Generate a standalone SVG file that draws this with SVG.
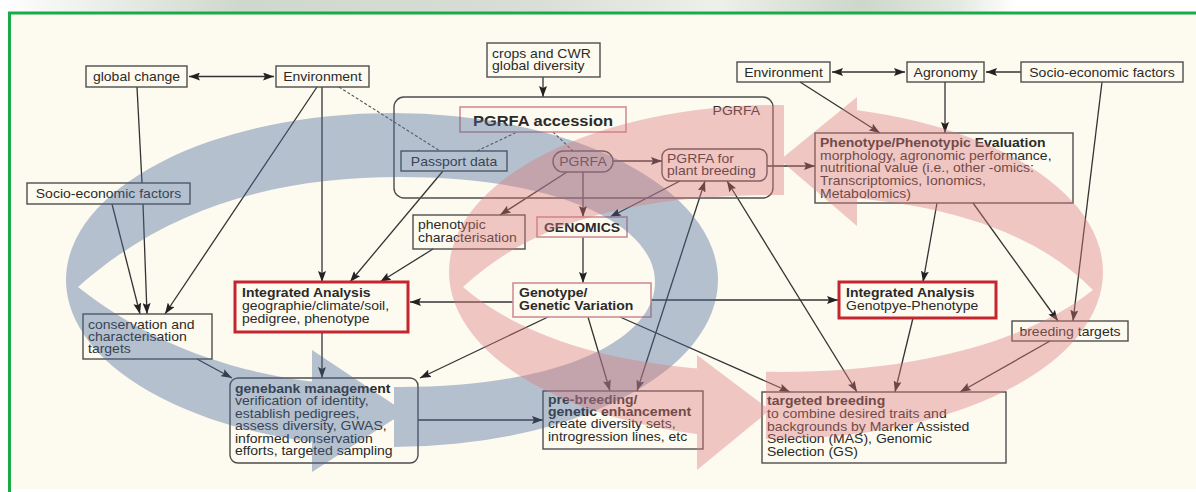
<svg xmlns="http://www.w3.org/2000/svg" width="1196" height="492" viewBox="0 0 1196 492">
<style>
.t{font-family:"Liberation Sans",Arial,Helvetica,sans-serif;font-size:12.5px;fill:#2a2a2a}
.b{font-weight:bold}
.big{font-size:14.7px}
.box{fill:none;stroke:#4d4d4d;stroke-width:1.4}
.red{fill:none;stroke:#c3262e;stroke-width:3}
.pink{fill:none;stroke:#cf8f98;stroke-width:1.6}
.ln{stroke:#333;stroke-width:1.3;fill:none}
.a{marker-end:url(#ah)}
.d{marker-start:url(#ah);marker-end:url(#ah)}
.dash{stroke:#555;stroke-width:1.1;stroke-dasharray:3 2;fill:none}
</style>
<defs>
<marker id="ah" viewBox="0 0 11 8" refX="11" refY="4" markerWidth="11" markerHeight="8" markerUnits="userSpaceOnUse" orient="auto-start-reverse"><path d="M0,0 L11,4 L0,8 L2,4 Z" fill="#222"/></marker>
<linearGradient id="strip" x1="0" y1="0" x2="1" y2="0">
<stop offset="0" stop-color="#ffffff"/>
<stop offset="0.2" stop-color="#cfd8cc"/>
<stop offset="0.45" stop-color="#d9ded6"/>
<stop offset="0.6" stop-color="#eef0ea"/>
<stop offset="0.72" stop-color="#cdd7ca"/>
<stop offset="0.8" stop-color="#e3e9e0"/>
<stop offset="0.85" stop-color="#ffffff"/>
<stop offset="1" stop-color="#ffffff"/>
</linearGradient>
<clipPath id="clipB"><path clip-rule="evenodd" d="M0,0H1196V492H0Z M312,300H394V492H312Z"/></clipPath>
<clipPath id="clipR"><path clip-rule="evenodd" d="M0,0H1196V492H0Z M697,300H766V492H697Z M784,0H857V250H784Z"/></clipPath>
</defs>

<g id="background">
<rect x="0" y="0" width="1196" height="492" fill="#ffffff"/>
<rect x="0" y="0" width="1196" height="12" fill="url(#strip)"/>
<rect x="10" y="13" width="1186" height="476" fill="#fdfaf0"/>
<line x1="8" y1="13" x2="1196" y2="13" stroke="#1aab48" stroke-width="3"/>
<line x1="9.5" y1="12" x2="9.5" y2="492" stroke="#1aab48" stroke-width="3"/>
</g>

<g id="connectors">
<line class="ln d" x1="189" y1="76.5" x2="274" y2="76.5"/>
<line class="ln d" x1="832" y1="72" x2="905" y2="72"/>
<line class="ln a" x1="1021" y1="72" x2="986" y2="72"/>
<line class="ln a" x1="800" y1="82" x2="880" y2="133"/>
<line class="ln a" x1="945" y1="82" x2="945" y2="133"/>
<line class="ln a" x1="1102" y1="82" x2="1073" y2="321"/>
<line class="ln a" x1="543" y1="77" x2="543" y2="97"/>
<line class="ln a" x1="613" y1="161" x2="662" y2="161"/>
<line class="ln a" x1="767" y1="166" x2="815" y2="166"/>
<line class="ln a" x1="583" y1="172" x2="583" y2="217"/>
<line class="ln a" x1="567" y1="172" x2="500" y2="215"/>
<line class="ln a" x1="680" y1="181" x2="610" y2="217"/>
<line class="ln a" x1="583" y1="237" x2="583" y2="283"/>
<line class="ln a" x1="513" y1="302" x2="410" y2="302"/>
<line class="ln a" x1="651" y1="300" x2="838" y2="300"/>
<line class="ln a" x1="548" y1="317" x2="420" y2="378"/>
<line class="ln a" x1="588" y1="317" x2="610" y2="391"/>
<line class="ln a" x1="620" y1="317" x2="790" y2="392"/>
<line class="ln d" x1="637" y1="391" x2="705" y2="181"/>
<line class="ln d" x1="727" y1="181" x2="857" y2="392"/>
<line class="ln a" x1="937" y1="203" x2="923" y2="282"/>
<line class="ln a" x1="973" y1="203" x2="1058" y2="321"/>
<line class="ln a" x1="913" y1="318" x2="895" y2="392"/>
<line class="ln a" x1="1050" y1="341" x2="960" y2="392"/>
<line class="ln a" x1="418" y1="420" x2="543" y2="420"/>
<line class="ln a" x1="322" y1="332" x2="322" y2="378"/>
<line class="ln a" x1="197" y1="359" x2="232" y2="378"/>
<line class="ln a" x1="112" y1="204" x2="140" y2="314"/>
<line class="ln" x1="137" y1="87" x2="142" y2="183"/>
<line class="ln a" x1="143" y1="204" x2="147" y2="314"/>
<line class="ln a" x1="317" y1="87" x2="165" y2="314"/>
<line class="ln a" x1="322" y1="87" x2="322" y2="282"/>
<line class="ln a" x1="443" y1="171" x2="350" y2="282"/>
<line class="ln a" x1="433" y1="249" x2="380" y2="282"/>
<line class="dash" x1="339" y1="87" x2="440" y2="151"/>
<line class="dash" x1="477" y1="151" x2="517" y2="132"/>
<line class="dash" x1="553" y1="132" x2="573" y2="151"/>
</g>

<g id="global-change"><rect class="box" x="86" y="66" width="101" height="21"/>
<text class="t" text-anchor="middle" transform="translate(136.5,81) scale(1.12,1)">global change</text></g>

<g id="environment-left"><rect class="box" x="276" y="66" width="93" height="21"/>
<text class="t" text-anchor="middle" transform="translate(322.5,81) scale(1.12,1)">Environment</text></g>

<g id="crops-cwr"><rect class="box" x="487" y="43" width="113" height="34"/>
<text class="t" transform="translate(492,57.5) scale(1.12,1)"><tspan x="0" y="0">crops and CWR</tspan><tspan x="0" y="12.5">global diversity</tspan></text></g>

<g id="environment-right"><rect class="box" x="737" y="62" width="93" height="20"/>
<text class="t" text-anchor="middle" transform="translate(783.5,76.5) scale(1.12,1)">Environment</text></g>

<g id="agronomy"><rect class="box" x="907" y="62" width="77" height="20"/>
<text class="t" text-anchor="middle" transform="translate(945.5,76.5) scale(1.12,1)">Agronomy</text></g>

<g id="socio-right"><rect class="box" x="1021" y="62" width="162" height="20"/>
<text class="t" text-anchor="middle" transform="translate(1102,76.5) scale(1.12,1)">Socio-economic factors</text></g>

<g id="pgrfa-group"><rect class="box" x="394" y="97" width="379" height="101" rx="10"/>
<text class="t" text-anchor="end" fill="#444" transform="translate(760,115) scale(1.12,1)">PGRFA</text></g>

<g id="pgrfa-accession"><rect class="pink" x="460" y="107" width="166" height="25"/>
<text class="t b big" text-anchor="middle" transform="translate(543,125.5) scale(1.12,1)">PGRFA accession</text></g>

<g id="passport-data"><rect class="box" x="401" y="151" width="106" height="20"/>
<text class="t" text-anchor="middle" transform="translate(454,165.5) scale(1.12,1)">Passport data</text></g>

<g id="pgrfa"><rect class="box" x="553" y="151" width="60" height="21" rx="10.5"/>
<text class="t" text-anchor="middle" transform="translate(583,166) scale(1.12,1)">PGRFA</text></g>

<g id="pgrfa-breeding"><rect class="box" x="662" y="149" width="105" height="32" rx="8"/>
<text class="t" transform="translate(667,163) scale(1.12,1)"><tspan x="0" y="0">PGRFA for</tspan><tspan x="0" y="12.5">plant breeding</tspan></text></g>

<g id="phenotype-evaluation"><rect class="box" x="815" y="133" width="258" height="70"/>
<text class="t" transform="translate(820,147) scale(1.12,1)"><tspan x="0" y="0" class="b">Phenotype/Phenotypic Evaluation</tspan><tspan x="0" y="12.7">morphology, agronomic performance,</tspan><tspan x="0" y="25.4">nutritional value (i.e., other -omics:</tspan><tspan x="0" y="38.1">Transcriptomics, Ionomics,</tspan><tspan x="0" y="50.8">Metabolomics)</tspan></text></g>

<g id="socio-left"><rect class="box" x="27" y="183" width="163" height="21"/>
<text class="t" text-anchor="middle" transform="translate(108.5,198) scale(1.12,1)">Socio-economic factors</text></g>

<g id="phenotypic-characterisation"><rect class="box" x="413" y="215" width="112" height="34"/>
<text class="t" transform="translate(418,229) scale(1.12,1)"><tspan x="0" y="0">phenotypic</tspan><tspan x="0" y="12.8">characterisation</tspan></text></g>

<g id="genomics"><rect class="pink" x="537" y="217" width="90" height="20"/>
<text class="t b" text-anchor="middle" transform="translate(582,231.5) scale(1.12,1)">GENOMICS</text></g>

<g id="integrated-analysis-left"><rect class="red" x="235" y="282" width="173" height="50"/>
<text class="t" transform="translate(242,297) scale(1.12,1)"><tspan x="0" y="0" class="b">Integrated Analysis</tspan><tspan x="0" y="12.8">geographie/climate/soil,</tspan><tspan x="0" y="25.6">pedigree, phenotype</tspan></text></g>

<g id="genotype"><rect class="pink" x="513" y="283" width="138" height="34"/>
<text class="t b" transform="translate(519,297) scale(1.12,1)"><tspan x="0" y="0">Genotype/</tspan><tspan x="0" y="13">Genetic Variation</tspan></text></g>

<g id="integrated-analysis-right"><rect class="red" x="839" y="282" width="157" height="36"/>
<text class="t" transform="translate(846,297) scale(1.12,1)"><tspan x="0" y="0" class="b">Integrated Analysis</tspan><tspan x="0" y="13">Genotpye-Phenotype</tspan></text></g>

<g id="conservation-targets"><rect class="box" x="83" y="314" width="129" height="45"/>
<text class="t" transform="translate(88,329) scale(1.12,1)"><tspan x="0" y="0">conservation and</tspan><tspan x="0" y="12.2">characterisation</tspan><tspan x="0" y="24.4">targets</tspan></text></g>

<g id="breeding-targets"><rect class="box" x="1012" y="321" width="116" height="20"/>
<text class="t" text-anchor="middle" transform="translate(1070,335.5) scale(1.12,1)">breeding targets</text></g>

<g id="genebank-management"><rect class="box" x="230" y="378" width="188" height="85" rx="8"/>
<text class="t" transform="translate(235,393) scale(1.12,1)"><tspan x="0" y="0" class="b">genebank management</tspan><tspan x="0" y="12.5">verification of identity,</tspan><tspan x="0" y="25">establish pedigrees,</tspan><tspan x="0" y="37.5">assess diversity, GWAS,</tspan><tspan x="0" y="50">informed conservation</tspan><tspan x="0" y="62.5">efforts, targeted sampling</tspan></text></g>

<g id="pre-breeding"><rect class="box" x="543" y="391" width="160" height="58"/>
<text class="t" transform="translate(548,403.5) scale(1.12,1)"><tspan x="0" y="0" class="b">pre-breeding/</tspan><tspan x="0" y="12.5" class="b">genetic enhancement</tspan><tspan x="0" y="25">create diversity sets,</tspan><tspan x="0" y="37.5">introgression lines, etc</tspan></text></g>

<g id="targeted-breeding"><rect class="box" x="762" y="392" width="244" height="71"/>
<text class="t" transform="translate(767,405) scale(1.12,1)"><tspan x="0" y="0" class="b">targeted breeding</tspan><tspan x="0" y="12.8">to combine desired traits and</tspan><tspan x="0" y="25.6">backgrounds by Marker Assisted</tspan><tspan x="0" y="38.4">Selection (MAS), Genomic</tspan><tspan x="0" y="51.2">Selection (GS)</tspan></text></g>

<g id="cycle-blue" opacity="0.4">
<path clip-path="url(#clipB)" fill="#4a6a9a" fill-rule="evenodd" d="M66,280 A326,167 0 1 0 718,280 A326,167 0 1 0 66,280 Z M78,287 C170,205 280,177 400,177 C560,177 655,225 655,282 C655,340 560,387 400,387 C280,387 170,360 78,287 Z"/>
<polygon fill="#4a6a9a" points="312,350 312,472 405,412"/>
</g>
<g id="cycle-red" opacity="0.4">
<path clip-path="url(#clipR)" fill="#db7a7c" fill-rule="evenodd" d="M449,272 A327,167 0 1 0 1103,272 A327,167 0 1 0 449,272 Z M463,287 C540,215 650,195 780,195 C920,195 1030,225 1093,290 C1030,340 920,372 780,372 C640,372 530,345 463,287 Z"/>
<polygon fill="#db7a7c" points="697,355 697,470 770,410"/>
<polygon fill="#db7a7c" points="857,97 857,226 780,160"/>
</g>
</svg>
